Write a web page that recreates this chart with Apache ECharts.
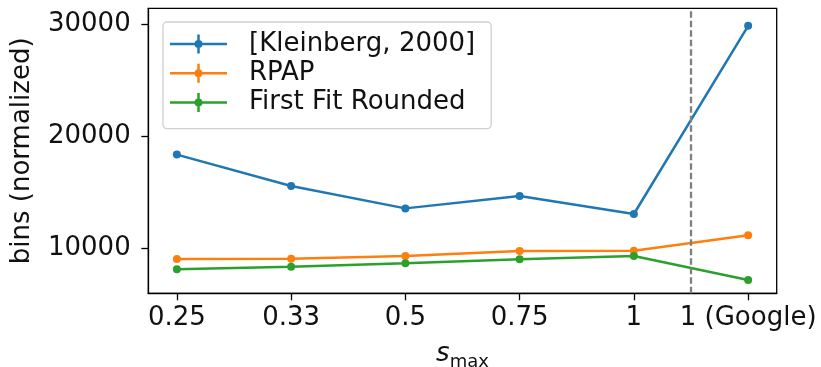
<!DOCTYPE html>
<html>
<head>
<meta charset="utf-8">
<script src="https://cdn.jsdelivr.net/npm/echarts@6/dist/echarts.min.js"></script>
<style>html,body{margin:0;padding:0;background:#fff}#c{width:821px;height:367px}</style>
</head>
<body>
<div id="c"></div>
<script>
const categories = ['0.25', '0.33', '0.5', '0.75', '1', '1 (Google)'];
const kleinberg = [18400, 15600, 13600, 14700, 13100, 29900];
const rpap = [9080, 9110, 9350, 9790, 9820, 11200];
const firstFit = [8160, 8390, 8700, 9050, 9350, 7200];
const yTicks = [10000, 20000, 30000];
const seriesNames = ['[Kleinberg, 2000]', 'RPAP', 'First Fit Rounded'];
const separatorAt = 4.5;

const FONT = 'DejaVu Sans';
const FS = 26;
const colors = ['#1f77b4', '#ff7f0e', '#2ca02c'];
const icon = 'path://M0,8.25H57V10.75H0Z M27.25,0H29.75V19H27.25Z M32.5,9.5A4,4 0 1 1 24.5,9.5A4,4 0 1 1 32.5,9.5Z';

function toPairs(arr) { return arr.map((v, i) => [i, v]); }

const chart = echarts.init(document.getElementById('c'), null, {renderer: 'canvas'});
const mkSeries = (name, data, color, extra) => Object.assign({
  name: name, type: 'line', data: toPairs(data),
  symbol: 'circle', symbolSize: 8,
  lineStyle: {width: 2.5, color: color},
  itemStyle: {color: color},
  emphasis: {disabled: true}, animation: false, z: 3
}, extra || {});

chart.setOption({
  animation: false,
  color: colors,
  grid: {left: 148.3, right: 44.3, top: 8.3, bottom: 73.7, containLabel: false, outerBoundsMode: 'none',
    show: true, borderColor: '#000', borderWidth: 1.3, backgroundColor: 'transparent'},
  legend: {
    data: seriesNames,
    orient: 'vertical',
    left: 163, top: 22,
    padding: [9, 16, 13, 7],
    itemWidth: 57, itemHeight: 19, itemGap: 3.3,
    icon: icon,
    backgroundColor: 'rgba(255,255,255,0.8)',
    borderColor: '#d0d0d0', borderWidth: 1.3, borderRadius: 4,
    textStyle: {fontFamily: FONT, fontSize: FS, color: '#111', padding: [0, 0, 0, 17]},
    selectedMode: false
  },
  xAxis: {
    type: 'value', min: -0.25, max: 5.25,
    axisLine: {show: true, onZero: false, lineStyle: {color: '#000', width: 1.3}},
    axisTick: {show: true, length: 7, lineStyle: {color: '#000', width: 1.3}, customValues: [0, 1, 2, 3, 4, 5]},
    axisLabel: {customValues: [0, 1, 2, 3, 4, 5], formatter: v => categories[Math.round(v)], fontFamily: FONT, fontSize: FS, color: '#111', margin: 12},
    splitLine: {show: false},
    name: '{s|s}{sub|max}',
    nameLocation: 'middle', nameGap: 48,
    nameTextStyle: {rich: {
      s: {fontFamily: FONT, fontSize: FS, fontStyle: 'italic', color: '#111', verticalAlign: 'bottom'},
      sub: {fontFamily: FONT, fontSize: 18, color: '#111', verticalAlign: 'bottom', padding: [0, 0, -4, 0]}
    }}
  },
  yAxis: {
    type: 'value', min: 6018, max: 31464,
    axisLine: {show: true, onZero: false, lineStyle: {color: '#000', width: 1.3}},
    axisTick: {show: true, length: 7, lineStyle: {color: '#000', width: 1.3}, customValues: yTicks},
    axisLabel: {customValues: yTicks, formatter: v => String(v), fontFamily: FONT, fontSize: FS, color: '#111', margin: 17.6},
    splitLine: {show: false},
    name: 'bins (normalized)', nameLocation: 'middle', nameGap: 113, nameRotate: 90,
    nameTextStyle: {fontFamily: FONT, fontSize: FS, color: '#111'}
  },
  series: [
    mkSeries(seriesNames[0], kleinberg, colors[0], {
      markLine: {
        silent: true, symbol: 'none', animation: false,
        label: {show: false},
        lineStyle: {color: '#808080', type: [6.5, 3], width: 2.3},
        data: [{xAxis: separatorAt}]
      }
    }),
    mkSeries(seriesNames[1], rpap, colors[1]),
    mkSeries(seriesNames[2], firstFit, colors[2])
  ]
});
</script>
</body>
</html>
